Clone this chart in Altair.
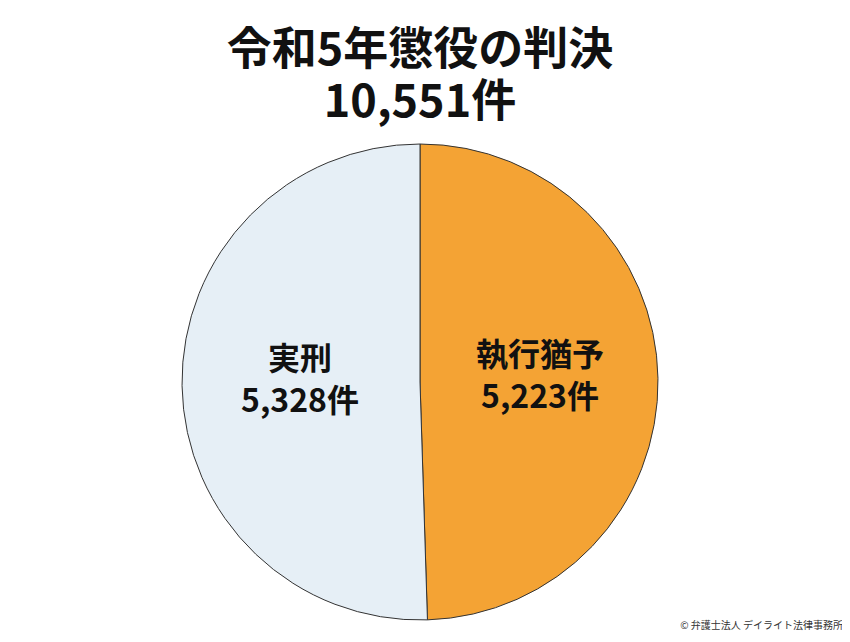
import altair as alt
import pandas as pd

categories = ["執行猶予", "実刑"]
counts = [5223, 5328]
colors = ["#F4A334", "#E6EFF6"]
title_lines = ["令和5年懲役の判決", "10,551件"]
credit = "© 弁護士法人 デイライト法律事務所"

FONT = "Noto Sans CJK JP"

df = pd.DataFrame({
    "category": categories,
    "count": counts,
    "idx": list(range(len(categories))),
    "label": [f"{c}\n{v:,}件" for c, v in zip(categories, counts)],
})

base = alt.Chart(df).encode(
    theta=alt.Theta("count:Q", stack=True),
    order=alt.Order("idx:Q"),
)

arcs = base.mark_arc(outerRadius=238, stroke="#333333", strokeWidth=1).encode(
    color=alt.Color("category:N", scale=alt.Scale(domain=categories, range=colors), legend=None)
)

labels = base.mark_text(
    radius=120, font=FONT, fontSize=32, fontWeight="bold", lineBreak="\n",
    lineHeight=42, color="#111111", baseline="middle", align="center", dy=-24
).encode(text="label:N")

credit_df = pd.DataFrame({"t": [credit]})
credit_mark = alt.Chart(credit_df).mark_text(
    font=FONT, fontSize=10, color="#333333", align="right", baseline="middle"
).encode(text="t:N", x=alt.value(835), y=alt.value(488))

chart = alt.layer(arcs, labels, credit_mark).properties(
    width=824, height=488,
    background="white",
    autosize=alt.AutoSizeParams(type="none"),
    padding={"left": 0, "top": 130, "right": 10, "bottom": 16},
    title=alt.TitleParams(
        text=title_lines, font=FONT, fontSize=45, fontWeight="bold",
        color="#111111", anchor="middle", lineHeight=52, offset=12,
    ),
).configure_view(strokeWidth=0, stroke="transparent")

chart.save("out.html", embed_options={"renderer": "svg", "actions": False})
